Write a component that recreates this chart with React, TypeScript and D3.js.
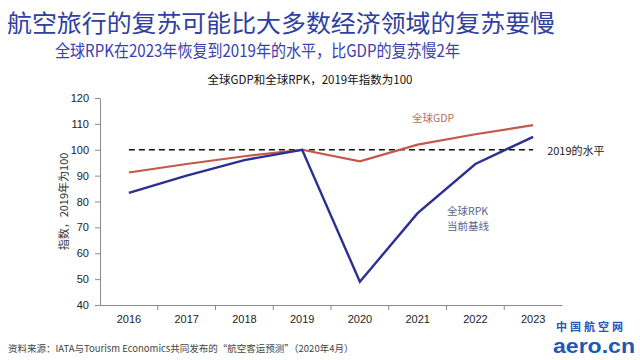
import * as d3 from 'd3';
import React, { useRef, useEffect } from 'react';

const years = ['2016', '2017', '2018', '2019', '2020', '2021', '2022', '2023'];
const gdp = [91.2, 94.5, 97.5, 100, 95.5, 102, 106, 109.5];
const rpk = [83.3, 90, 96, 100, 49, 75.5, 94.5, 105];
const yTicks = [40, 50, 60, 70, 80, 90, 100, 110, 120];

const FONT = '"Liberation Sans", Arial, "Noto Sans CJK SC", sans-serif';
const CJK = '"Noto Sans CJK SC", "Liberation Sans", sans-serif';

const App: React.FC = () => {
  const ref = useRef<HTMLDivElement>(null);

  useEffect(() => {
    if (!ref.current) return;
    ref.current.innerHTML = '';

    const width = 640;
    const height = 360;
    const margin = { top: 98, left: 100, right: 78, bottom: 55 };

    const svg = d3.select(ref.current)
      .append('svg')
      .attr('width', width)
      .attr('height', height)
      .style('position', 'absolute')
      .style('left', 0)
      .style('top', 0)
      .style('background', '#fff');

    // titles
    svg.append('text')
      .attr('x', 7).attr('y', 32)
      .attr('font-family', CJK).attr('font-size', 24)
      .attr('fill', '#3040a0')
      .attr('textLength', 548).attr('lengthAdjust', 'spacingAndGlyphs')
      .text('航空旅行的复苏可能比大多数经济领域的复苏要慢');
    svg.append('text')
      .attr('x', 55).attr('y', 57)
      .attr('font-family', CJK).attr('font-size', 17)
      .attr('fill', '#3a40b0')
      .attr('textLength', 405).attr('lengthAdjust', 'spacingAndGlyphs')
      .text('全球RPK在2023年恢复到2019年的水平，比GDP的复苏慢2年');
    svg.append('text')
      .attr('x', 310).attr('y', 84)
      .attr('text-anchor', 'middle')
      .attr('font-family', CJK).attr('font-size', 11.5)
      .attr('fill', '#111')
      .text('全球GDP和全球RPK，2019年指数为100');

    const x = d3.scaleBand()
      .domain(years)
      .range([margin.left, width - margin.right]);

    const y = d3.scaleLinear()
      .domain([40, 120])
      .range([height - margin.bottom, margin.top]);

    const cx = (d: string) => (x(d) ?? 0) + x.bandwidth() / 2;

    // y axis
    const yAxis = svg.append('g')
      .attr('transform', `translate(${margin.left},0)`)
      .call(d3.axisLeft(y).tickValues(yTicks).tickSize(5).tickPadding(6).tickSizeOuter(0));
    yAxis.select('.domain').attr('stroke', '#8a8a8a');
    yAxis.selectAll('line').attr('stroke', '#8a8a8a');
    yAxis.selectAll('text')
      .attr('font-family', FONT).attr('font-size', 11).attr('fill', '#222');

    // x axis
    const xAxis = svg.append('g')
      .attr('transform', `translate(0,${height - margin.bottom})`)
      .call(d3.axisBottom(x).tickSize(0).tickPadding(10));
    xAxis.select('.domain').attr('stroke', '#8a8a8a');
    xAxis.selectAll('text')
      .attr('font-family', FONT).attr('font-size', 11).attr('fill', '#222');
    xAxis.selectAll('.bound')
      .data(years.slice(1))
      .enter()
      .append('line')
      .attr('x1', d => x(d) ?? 0).attr('x2', d => x(d) ?? 0)
      .attr('y1', 0).attr('y2', 5)
      .attr('stroke', '#8a8a8a');

    svg.append('text')
      .attr('transform', `translate(68,${y(80)}) rotate(-90)`)
      .attr('text-anchor', 'middle')
      .attr('font-family', CJK).attr('font-size', 11)
      .attr('fill', '#333')
      .text('指数，2019年为100');

    // 2019 reference line
    svg.append('line')
      .attr('x1', cx(years[0])).attr('x2', cx(years[years.length - 1]))
      .attr('y1', y(100)).attr('y2', y(100))
      .attr('stroke', '#111').attr('stroke-width', 1.5)
      .attr('stroke-dasharray', '6,4');
    svg.append('text')
      .attr('x', cx(years[years.length - 1]) + 14).attr('y', y(100) + 5)
      .attr('font-family', CJK).attr('font-size', 11)
      .attr('fill', '#222')
      .text('2019的水平');

    const line = d3.line<number>()
      .x((_, i) => cx(years[i]))
      .y(d => y(d));

    svg.append('path')
      .datum(gdp)
      .attr('d', line)
      .attr('fill', 'none')
      .attr('stroke', '#c4584a')
      .attr('stroke-width', 2.2);

    svg.append('path')
      .datum(rpk)
      .attr('d', line)
      .attr('fill', 'none')
      .attr('stroke', '#2a2f94')
      .attr('stroke-width', 2.4);

    svg.append('text')
      .attr('x', 412).attr('y', 122)
      .attr('font-family', CJK).attr('font-size', 10.5)
      .attr('fill', '#c06a5c')
      .text('全球GDP');
    svg.append('text')
      .attr('x', 447).attr('y', 215)
      .attr('font-family', CJK).attr('font-size', 10.5)
      .attr('fill', '#5c6488')
      .text('全球RPK');
    svg.append('text')
      .attr('x', 447).attr('y', 230)
      .attr('font-family', CJK).attr('font-size', 10.5)
      .attr('fill', '#5c6488')
      .text('当前基线');

    // source
    svg.append('text')
      .attr('x', 8).attr('y', 352)
      .attr('font-family', CJK).attr('font-size', 9.5)
      .attr('fill', '#444')
      .text('资料来源：IATA与Tourism Economics共同发布的“航空客运预测”（2020年4月）');

    // watermark
    svg.append('text')
      .attr('x', 556).attr('y', 331)
      .attr('font-family', CJK).attr('font-size', 11).attr('font-weight', 'bold')
      .attr('fill', '#1d58b8')
      .attr('letter-spacing', 3)
      .text('中国航空网');
    svg.append('text')
      .attr('x', 553).attr('y', 353)
      .attr('font-family', FONT).attr('font-size', 20).attr('font-weight', 'bold')
      .attr('fill', '#1d58b8')
      .attr('textLength', 82).attr('lengthAdjust', 'spacingAndGlyphs')
      .text('aero.cn');
  }, []);

  return <div ref={ref} />;
};

export default App;
